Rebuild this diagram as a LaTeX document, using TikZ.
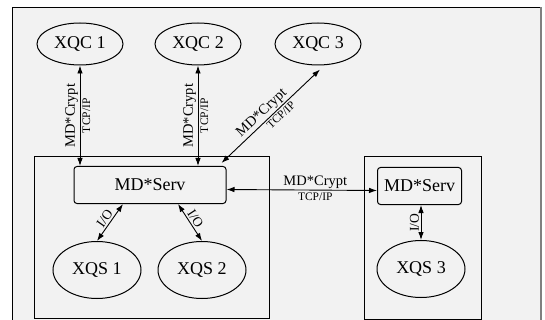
\documentclass[tikz,border=0pt]{standalone}
\usepackage{fontspec}
\setmainfont{Liberation Serif}
\usetikzlibrary{shapes.geometric,arrows.meta,calc}

\begin{document}
\begin{tikzpicture}[x=1pt,y=-1pt,
    proc/.style={ellipse,draw,line width=1pt,inner sep=0pt,minimum width=86pt,minimum height=42pt,font=\fontsize{18}{20}\selectfont},
    xqs/.style={proc,minimum width=88pt,minimum height=57pt},
    serv/.style={rectangle,draw,rounded corners=3pt,line width=1pt,inner sep=0pt,minimum height=37pt,font=\fontsize{18}{20}\selectfont},
    host/.style={rectangle,draw,line width=1pt,inner sep=0pt},
    link/.style={{Latex[length=8pt,width=5.5pt]}-{Latex[length=8pt,width=5.5pt]},line width=0.9pt},
    crypt/.style={font=\fontsize{14.5}{16}\selectfont,inner sep=1.5pt},
    tcp/.style={font=\fontsize{11.5}{13}\selectfont,inner sep=2pt},
    io/.style={font=\fontsize{13.5}{15}\selectfont,inner sep=1.5pt}]
    \useasboundingbox (0,0) rectangle (545,320);
    % Page frame
    \fill[black!5] (12,7.5) rectangle (540.5,320);
    \draw[line width=0.8pt] (12,320) -- (12,7.5) -- (540.5,7.5);
    \draw[gray,line width=2pt] (540.5,7.5) -- (540.5,320);

    % Hosts
    \node[host,minimum width=235pt,minimum height=161pt] (hostA) at (151.5,237.5) {};
    \node[host,minimum width=117pt,minimum height=162.5pt] (hostB) at (422.5,238.25) {};

    % Clients
    \node[proc] (xqc1) at (80,44) {XQC 1};
    \node[proc] (xqc2) at (198,44) {XQC 2};
    \node[proc] (xqc3) at (318,44) {XQC 3};

    % Servers
    \node[serv,minimum width=152pt] (serv1) at (150,185) {MD*Serv};
    \node[serv,minimum width=84pt] (serv2) at (419.5,186) {MD*Serv};

    % Storage
    \node[xqs] (xqs1) at (97,270) {XQS 1};
    \node[xqs] (xqs2) at (202,270) {XQS 2};
    \node[xqs] (xqs3) at (421,269) {XQS 3};

    % Client links
    \draw[link] (xqc1.south |- serv1.north) -- node[crypt,sloped,above] {MD*Crypt} node[tcp,sloped,below] {TCP/IP} (xqc1.south);
    \draw[link] (xqc2.south |- serv1.north) -- node[crypt,sloped,above] {MD*Crypt} node[tcp,sloped,below] {TCP/IP} (xqc2.south);
    \draw[link] ($(serv1.north east)+(-5,-3)$) -- node[crypt,sloped,above,pos=0.47] {MD*Crypt} node[tcp,sloped,below,pos=0.56] {TCP/IP} ($(xqc3.south)+(2,4)$);

    % Server link
    \draw[link] ([yshift=-4.5pt]serv1.east) -- node[crypt,above,pos=0.59] {MD*Crypt} node[tcp,below,pos=0.59] {TCP/IP} ([yshift=-4.5pt]serv2.west);

    % I/O links
    \draw[link] (xqs1.north) -- node[io,sloped,above] {I/O} ($(serv1.south)+(-27,0)$);
    \draw[link] ($(serv1.south)+(28,0)$) -- node[io,sloped,above] {I/O} (xqs2.north);
    \draw[link] (xqs3.north) -- node[io,sloped,above] {I/O} (xqs3.north |- serv2.south);
\end{tikzpicture}
\end{document}
